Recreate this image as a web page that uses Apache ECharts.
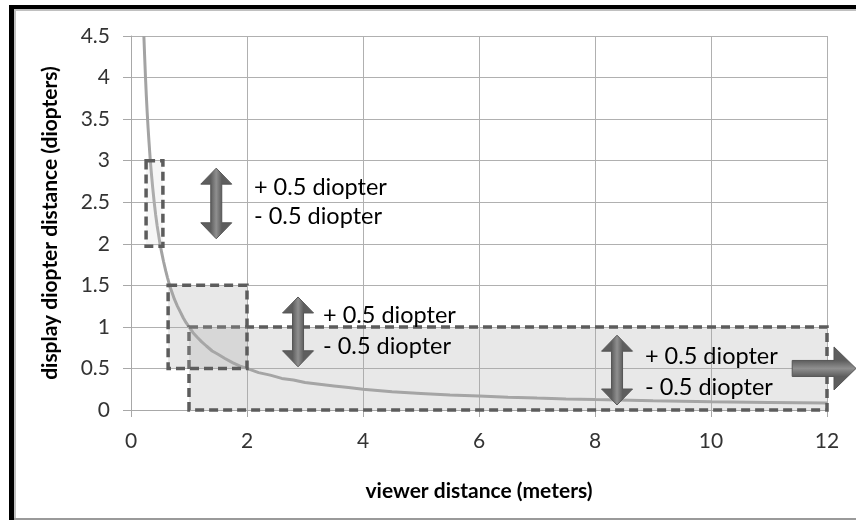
<!DOCTYPE html>
<html><head><meta charset="utf-8">
<script src="https://cdn.jsdelivr.net/npm/echarts@6/dist/echarts.min.js"></script>
<style>html,body{margin:0;padding:0;background:#fff}#c{width:856px;height:521px}</style>
</head><body><div id="c"></div>
<script>
// curve: display diopter distance vs viewer distance
const curveX = [0.222,0.235,0.25,0.265,0.28,0.295,0.31,0.33,0.35,0.375,0.4,0.425,0.45,0.475,0.5,0.53,0.56,0.6,0.63,0.67,0.7,0.75,0.8,0.85,0.9,0.95,1,1.07,1.15,1.22,1.3,1.4,1.5,1.62,1.75,1.87,2,2.2,2.4,2.6,2.8,3,3.25,3.5,3.75,4,4.5,5,5.5,6,6.5,7,7.5,8,9,10,11,12];
const curveY = [4.5,4.26,4.0,3.77,3.57,3.39,3.23,3.03,2.86,2.67,2.5,2.35,2.22,2.11,2.0,1.89,1.79,1.67,1.59,1.49,1.43,1.33,1.25,1.18,1.11,1.05,1.0,0.93,0.87,0.82,0.77,0.71,0.67,0.62,0.57,0.53,0.5,0.45,0.42,0.38,0.36,0.33,0.31,0.29,0.27,0.25,0.22,0.2,0.18,0.167,0.154,0.143,0.133,0.125,0.111,0.1,0.091,0.083];
// tolerance boxes (drawn in this order)
const boxX0 = [1.0, 0.26, 0.64];
const boxX1 = [12, 0.55, 2.0];
const boxY0 = [0, 1.97, 0.5];
const boxY1 = [1.0, 3.0, 1.5];
const boxFill = ['rgba(170,170,170,0.27)', 'rgba(210,210,210,0.2)', 'rgba(170,170,170,0.27)'];
// double-headed arrows
const arrowX = [1.47, 2.88, 8.38];
const arrowTop = [2.91, 1.36, 0.90];
const arrowBottom = [2.06, 0.52, 0.06];
// labels
const labelX = [2.12, 3.31, 8.86];
const plusY = [2.68, 1.14, 0.64];
const minusY = [2.33, 0.76, 0.27];
const plusText = '+ 0.5 diopter';
const minusText = '- 0.5 diopter';
// right pointing arrow: [xStart, xTip, y]
const rightArrow = [11.4, 12.5, 0.5];

const FONT = 'Lato';
const chart = echarts.init(document.getElementById('c'));
const arrowStops = [{offset:0,color:'#5e5e5e'},{offset:0.5,color:'#8f8f8f'},{offset:1,color:'#5e5e5e'}];

chart.setOption({
  animation:false,
  grid:{left:131,right:29,top:36,bottom:111},
  xAxis:{type:'value',min:0,max:12,interval:2,
    name:'viewer distance (meters)',nameLocation:'middle',nameGap:71,
    nameTextStyle:{fontFamily:FONT,fontWeight:'bold',fontSize:21,color:'#000'},
    axisLine:{show:true,onZero:false,lineStyle:{color:'#a8a8a8',width:1}},
    axisTick:{show:true,length:7,lineStyle:{color:'#a8a8a8'}},
    axisLabel:{fontFamily:FONT,fontSize:21,color:'#333',margin:21},
    splitLine:{show:true,lineStyle:{color:'#b0b0b0',width:1}}},
  yAxis:{type:'value',min:0,max:4.5,interval:0.5,
    name:'display diopter distance (diopters)',nameLocation:'middle',nameGap:70,nameRotate:90,
    nameTextStyle:{fontFamily:FONT,fontWeight:'bold',fontSize:21,color:'#000'},
    axisLine:{show:true,lineStyle:{color:'#a8a8a8',width:1}},
    axisTick:{show:true,length:8,lineStyle:{color:'#a8a8a8'}},
    axisLabel:{fontFamily:FONT,fontSize:21,color:'#333',margin:21},
    splitLine:{show:true,lineStyle:{color:'#b0b0b0',width:1}}},
  graphic:[
    {type:'rect',shape:{x:9,y:5,width:847,height:4},style:{fill:'#000'}},
    {type:'rect',shape:{x:9,y:5,width:5,height:515},style:{fill:'#000'}},
    {type:'rect',shape:{x:14,y:9,width:842,height:2},style:{fill:'#c0c0c0'}},
    {type:'rect',shape:{x:14,y:9,width:2,height:509},style:{fill:'#c0c0c0'}},
    {type:'rect',shape:{x:14,y:518,width:842,height:2},style:{fill:'#9a9a9a'}}
  ],
  series:[
    {type:'line',z:2,data:curveX.map((x,i)=>[x,curveY[i]]),smooth:false,showSymbol:false,
      lineStyle:{color:'#a3a3a3',width:3}},
    {type:'custom',z:5,clip:false,data:boxX0.map((x,i)=>[x,boxY0[i],boxX1[i],boxY1[i]]),
      renderItem:function(params,api){
        const i=params.dataIndex;
        const p0=api.coord([api.value(0),api.value(1)]);
        const p1=api.coord([api.value(2),api.value(3)]);
        return {type:'rect',shape:{x:Math.min(p0[0],p1[0]),y:Math.min(p0[1],p1[1]),width:Math.abs(p1[0]-p0[0]),height:Math.abs(p1[1]-p0[1])},
          style:{fill:boxFill[i],stroke:'#5c5c5c',lineWidth:3.5,lineDash:[9,5]}};
      }},
    {type:'custom',z:6,clip:false,data:arrowX.map((x,i)=>[x,arrowTop[i],arrowBottom[i]]),
      renderItem:function(params,api){
        const top=api.coord([api.value(0),api.value(1)]);
        const bot=api.coord([api.value(0),api.value(2)]);
        const cx=top[0], hw=15.5, sw=5.5, hh=16;
        const pts=[[cx,top[1]],[cx+hw,top[1]+hh],[cx+sw,top[1]+hh],[cx+sw,bot[1]-hh],[cx+hw,bot[1]-hh],[cx,bot[1]],
                   [cx-hw,bot[1]-hh],[cx-sw,bot[1]-hh],[cx-sw,top[1]+hh],[cx-hw,top[1]+hh]];
        const grad={type:'linear',global:true,x:cx-sw,y:0,x2:cx+sw,y2:0,colorStops:arrowStops};
        return {type:'polygon',shape:{points:pts},style:{fill:grad,stroke:'#555',lineWidth:1}};
      }},
    {type:'custom',z:7,clip:false,data:labelX.map((x,i)=>[x,plusY[i],minusY[i]]),
      renderItem:function(params,api){
        const a=api.coord([api.value(0),api.value(1)]);
        const b=api.coord([api.value(0),api.value(2)]);
        const st={fontFamily:FONT,fontSize:23.5,fill:'#000',textAlign:'left',textVerticalAlign:'middle'};
        return {type:'group',children:[
          {type:'text',style:Object.assign({x:a[0],y:a[1],text:plusText},st)},
          {type:'text',style:Object.assign({x:b[0],y:b[1],text:minusText},st)}
        ]};
      }},
    {type:'custom',z:6,clip:false,data:[rightArrow],
      renderItem:function(params,api){
        const s=api.coord([api.value(0),api.value(2)]);
        const t=api.coord([api.value(1),api.value(2)]);
        const y=s[1], sh=8, hh=21.5, hl=22;
        const pts=[[s[0],y-sh],[t[0]-hl,y-sh],[t[0]-hl,y-hh],[t[0],y],[t[0]-hl,y+hh],[t[0]-hl,y+sh],[s[0],y+sh]];
        const grad={type:'linear',global:true,x:0,y:y-sh,x2:0,y2:y+sh,colorStops:arrowStops};
        return {type:'polygon',shape:{points:pts},style:{fill:grad,stroke:'#555',lineWidth:1}};
      }}
  ]
});
</script></body></html>
